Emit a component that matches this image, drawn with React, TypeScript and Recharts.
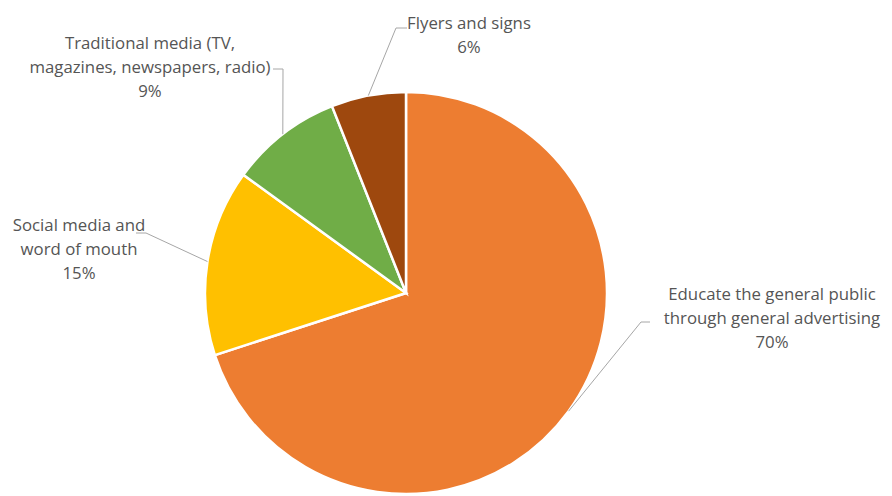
import React from "react";
import { PieChart, Pie, Cell } from "recharts";

const categories = [
  "Educate the general public through general advertising",
  "Social media and word of mouth",
  "Traditional media (TV, magazines, newspapers, radio)",
  "Flyers and signs",
];
const labelLines = [
  ["Educate the general public", "through general advertising"],
  ["Social media and", "word of mouth"],
  ["Traditional media (TV,", "magazines, newspapers, radio)"],
  ["Flyers and signs"],
];
const values = [70, 15, 9, 6];
const colors = ["#ED7D31", "#FFC000", "#70AD47", "#9E480E"];

const data = categories.map((name, i) => ({ name, value: values[i] }));

// label placement (styling): first-line center and leader elbow points
const labelLayout = [
  { x: 772, y: 293, elbow: [[641, 322], [650, 322]] },
  { x: 79, y: 224, elbow: [[146, 233], [136, 233]] },
  { x: 150, y: 42, elbow: [[283, 69], [273, 69]] },
  { x: 469, y: 22, elbow: [[396, 28], [407, 28]] },
];

const LINE_H = 24;
const RAD = Math.PI / 180;

const renderLabel = (props: any) => {
  const { cx, cy, midAngle, outerRadius, percent, index } = props;
  const ex = cx + outerRadius * Math.cos(-midAngle * RAD);
  const ey = cy + outerRadius * Math.sin(-midAngle * RAD);
  const lay = labelLayout[index];
  const pts = [[ex, ey], ...lay.elbow].map((p) => p.join(",")).join(" ");
  const lines = [...labelLines[index], `${Math.round(percent * 100)}%`];
  return (
    <g key={`lbl-${index}`}>
      <polyline points={pts} fill="none" stroke="#A6A6A6" strokeWidth={1} />
      <text
        x={lay.x}
        y={lay.y}
        textAnchor="middle"
        fill="#555555"
        fontFamily="'Open Sans', sans-serif"
        fontSize={16.8}
      >
        {lines.map((t, j) => (
          <tspan key={j} x={lay.x} y={lay.y + j * LINE_H} dominantBaseline="central">
            {t}
          </tspan>
        ))}
      </text>
    </g>
  );
};

export default function App() {
  return (
    <div style={{ position: "absolute", left: 0, top: 0, width: 892, height: 496, background: "#fff" }}>
      <PieChart width={892} height={496} margin={{ top: 0, right: 0, bottom: 0, left: 0 }}>
        <Pie
          data={data}
          dataKey="value"
          nameKey="name"
          cx={406}
          cy={293}
          outerRadius={201}
          startAngle={90}
          endAngle={-270}
          stroke="#FFFFFF"
          strokeWidth={2.5}
          label={renderLabel}
          labelLine={false}
          isAnimationActive={false}
        >
          {data.map((d, i) => (
            <Cell key={d.name} fill={colors[i]} />
          ))}
        </Pie>
      </PieChart>
    </div>
  );
}
